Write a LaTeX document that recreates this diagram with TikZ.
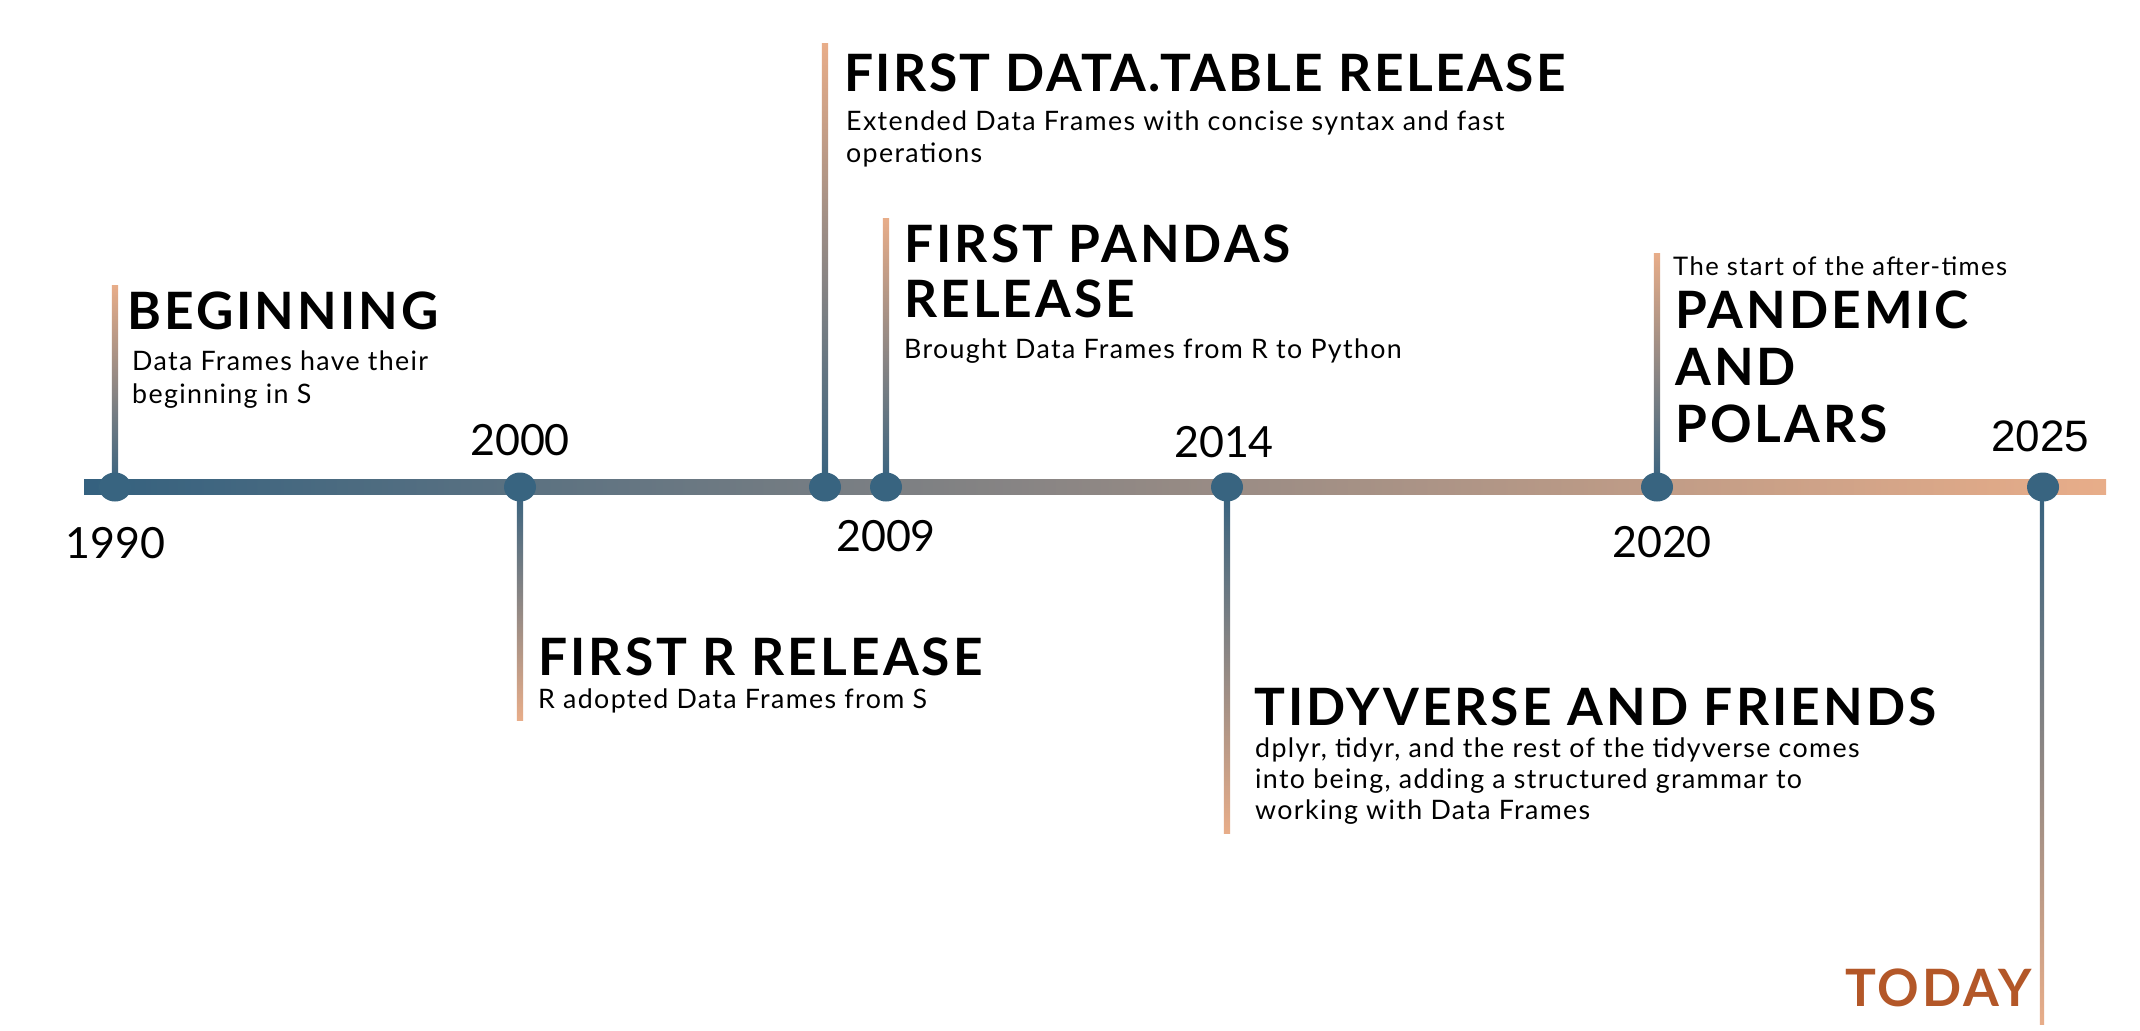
\documentclass[tikz,border=0pt]{standalone}
\usepackage{fontspec}
\setmainfont{Lato}
\newfontfamily\headfont[LetterSpace=6]{Lato}
\newfontfamily\bodyfont[LetterSpace=5]{Lato}
\newfontfamily\altyearfont{Liberation Sans}
\definecolor{tlblue}{RGB}{52,97,127}
\definecolor{tlsalmon}{RGB}{232,173,137}
\definecolor{tldot}{RGB}{56,100,128}
\definecolor{tltoday}{RGB}{179,87,40}
\usetikzlibrary{shapes.geometric}
\tikzset{
  head/.style={font=\headfont\bfseries\fontsize{51.5}{56}\selectfont, anchor=base west, inner sep=0pt, align=left, text=black},
  body/.style={font=\bodyfont\fontsize{26.8}{32}\selectfont, anchor=base west, inner sep=0pt, align=left, text=black},
  year/.style={font=\fontsize{43}{43}\selectfont, anchor=base, inner sep=0pt, text=black},
  dot/.style={ellipse, fill=tldot, minimum width=32pt, minimum height=29pt, inner sep=0pt},
  stemup/.style={top color=tlsalmon, bottom color=tlblue},
  stemdown/.style={top color=tlblue, bottom color=tlsalmon},
}
\begin{document}
\begin{tikzpicture}[x=1pt,y=-1pt]
\useasboundingbox (0,0) rectangle (2140,1030);
\fill[white] (0,0) rectangle (2140,1030);

% axis ends
\coordinate (lineL) at (84,486.5);
\coordinate (lineR) at (2106,486.5);
\shade[left color=tlblue, right color=tlsalmon] ([yshift=7.5pt]lineL) rectangle ([yshift=-7.5pt]lineR);

% event positions on the axis
\coordinate (p1990) at (115,487);
\coordinate (p2000) at (520,487);
\coordinate (p2008) at (825,487);
\coordinate (p2009) at (886,487);
\coordinate (p2014) at (1227,487);
\coordinate (p2020) at (1657,487);
\coordinate (p2025) at (2043,487);

% free ends of the stems
\coordinate (s1990) at (115,285);
\coordinate (s2000) at (520,720);
\coordinate (s2008) at (825,44);
\coordinate (s2009) at (886,218);
\coordinate (s2014) at (1227,833);
\coordinate (s2020) at (1657,253);
\coordinate (s2025) at (2041,1024);

% stems
\shade[stemup]   ([xshift=-3.2pt]s1990) rectangle ([xshift=3.2pt]p1990);
\shade[stemdown] ([xshift=-3.2pt]p2000) rectangle ([xshift=3.2pt]s2000);
\shade[stemup]   ([xshift=-3.2pt]s2008) rectangle ([xshift=3.2pt]p2008);
\shade[stemup]   ([xshift=-3.2pt]s2009) rectangle ([xshift=3.2pt]p2009);
\shade[stemdown] ([xshift=-3.2pt]p2014) rectangle ([xshift=3.2pt]s2014);
\shade[stemup]   ([xshift=-3.2pt]s2020) rectangle ([xshift=3.2pt]p2020);
\shade[stemdown] ([xshift=-3.2pt]p2025) rectangle ([xshift=3.2pt]s2025);

% dots
\foreach \y in {1990,2000,2008,2009,2014,2020,2025}
  \node[dot] (d\y) at (p\y) {};

% year labels
\node[year] (y1990) at (115.5,558) {1990};
\node[year] (y2000) at (520,455) {2000};
\node[year] (y2009) at (886,551) {2009};
\node[year] (y2014) at (1224,457) {2014};
\node[year] (y2020) at (1662,557) {2020};
\node[year, font=\altyearfont\fontsize{44}{44}\selectfont] (y2025) at (2040,451) {2025};

% events (multi-line nodes are placed by the baseline of their last line)
\node[head] (h1990) at (127,329) {BEGINNING};
\node[body, font=\bodyfont\fontsize{26.8}{33}\selectfont] (b1990) at (132,403) {Data Frames have their\\beginning in S};

\node[head] (h2000) at (538,675) {FIRST R RELEASE};
\node[body] (b2000) at (538,708) {R adopted Data Frames from S};

\node[head, font=\headfont\addfontfeature{LetterSpace=4.8}\bfseries\fontsize{51.5}{56}\selectfont] (h2008) at (844,92) {FIRST DATA.TABLE RELEASE};
\node[body] (b2008) at (846,162) {Extended Data Frames with concise syntax and fast\\operations};

\node[head, font=\headfont\bfseries\fontsize{51.5}{55}\selectfont] (h2009) at (904,317) {FIRST PANDAS\\RELEASE};
\node[body] (b2009) at (904,358) {Brought Data Frames from R to Python};

\node[head] (h2014) at (1254,725) {TIDYVERSE AND FRIENDS};
\node[body, font=\bodyfont\fontsize{26.8}{31}\selectfont] (b2014) at (1255,819) {dplyr, tidyr, and the rest of the tidyverse comes\\into being, adding a structured grammar to\\working with Data Frames};

\node[body, font=\bodyfont\addfontfeature{LetterSpace=5.6}\fontsize{25.6}{32}\selectfont] (b2020) at (1673,275) {The start of the after-times};
\node[head, font=\headfont\bfseries\fontsize{51.5}{57}\selectfont] (h2020) at (1675,442) {PANDEMIC\\AND\\POLARS};

\node[head, text=tltoday] (h2025) at (1845,1006) {TODAY};
\end{tikzpicture}
\end{document}
